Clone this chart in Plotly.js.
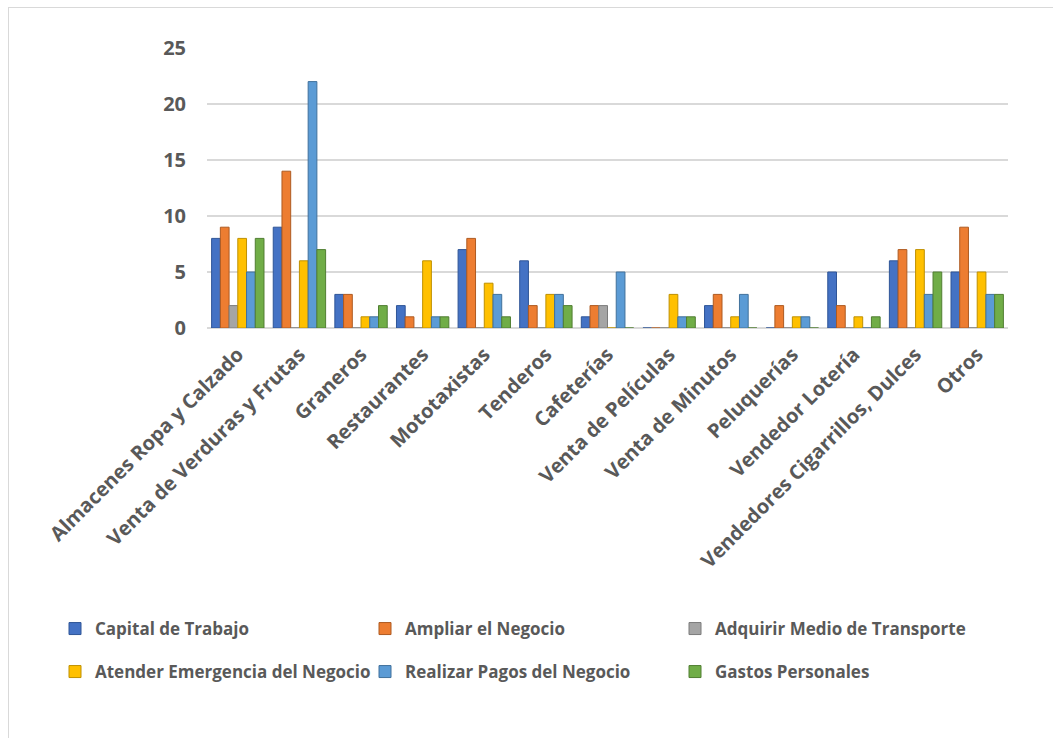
<!DOCTYPE html>
<html>
<head>
<meta charset="utf-8">
<script src="https://cdn.plot.ly/plotly-3.0.1.min.js"></script>
<style>
  html, body { margin: 0; padding: 0; background: #ffffff; }
  #chart { position: absolute; left: 0; top: 0; width: 1053px; height: 738px; }
  #frame { position: absolute; left: 8px; top: 7px; width: 1100px; height: 800px; border: 1px solid #d9d9d9; pointer-events: none; z-index: 5; }
</style>
</head>
<body>
<div id="chart"></div>
<div id="frame"></div>
<script>
const categories = [
  "Almacenes Ropa y Calzado", "Venta de Verduras y Frutas", "Graneros", "Restaurantes",
  "Mototaxistas", "Tenderos", "Cafeterías", "Venta de Películas", "Venta de Minutos",
  "Peluquerías", "Vendedor Lotería", "Vendedores Cigarrillos, Dulces", "Otros"
];
const seriesNames = [
  "Capital de Trabajo", "Ampliar el Negocio", "Adquirir Medio de Transporte",
  "Atender Emergencia del Negocio", "Realizar Pagos del Negocio", "Gastos Personales"
];
const capitalTrabajo     = [8, 9, 3, 2, 7, 6, 1, 0, 2, 0, 5, 6, 5];
const ampliarNegocio     = [9, 14, 3, 1, 8, 2, 2, 0, 3, 2, 2, 7, 9];
const adquirirTransporte = [2, 0, 0, 0, 0, 0, 2, 0, 0, 0, 0, 0, 0];
const atenderEmergencia  = [8, 6, 1, 6, 4, 3, 0, 3, 1, 1, 1, 7, 5];
const realizarPagos      = [5, 22, 1, 1, 3, 3, 5, 1, 3, 1, 0, 3, 3];
const gastosPersonales   = [8, 7, 2, 1, 1, 2, 0, 1, 0, 0, 1, 5, 3];
const yTicks = [0, 5, 10, 15, 20, 25];

const seriesValues = [capitalTrabajo, ampliarNegocio, adquirirTransporte, atenderEmergencia, realizarPagos, gastosPersonales];
const colors = ["#4472c4", "#ed7d31", "#a5a5a5", "#ffc000", "#5b9bd5", "#70ad47"];
const edge   = ["#2f5597", "#ae5a21", "#7b7b7b", "#bf9000", "#41719c", "#507e32"];

const textColor = "#595959";
const fontFam = "'Open Sans', 'Noto Sans', sans-serif";

const legendIds = ["legend", "legend2", "legend3", "legend4", "legend5", "legend6"];
const legendCols = [55, 365, 675];
const legendRows = [629, 672];

const traces = seriesValues.map((vals, i) => ({
  type: "bar",
  name: seriesNames[i],
  x: categories,
  y: vals,
  marker: { color: colors[i], line: { color: edge[i], width: 1 } },
  legend: legendIds[i],
  hoverinfo: "x+y+name"
}));

const layout = {
  width: 1053,
  height: 738,
  margin: { l: 207, r: 45, t: 48, b: 410 },
  paper_bgcolor: "#ffffff",
  plot_bgcolor: "#ffffff",
  barmode: "group",
  bargap: 0.15,
  bargroupgap: 0,
  xaxis: {
    type: "category",
    tickangle: -45,
    tickfont: { family: fontFam, size: 20, color: textColor, weight: "bold" },
    showgrid: false,
    showline: false,
    ticks: "",
    ticklen: 0,
    ticklabelstandoff: 10
  },
  yaxis: {
    range: [0, 25],
    tickvals: yTicks,
    ticktext: yTicks.map(String),
    tickfont: { family: fontFam, size: 20, color: textColor, weight: "bold" },
    showgrid: true,
    gridcolor: "#d9d9d9",
    gridwidth: 2,
    zeroline: true,
    zerolinecolor: "#d9d9d9",
    zerolinewidth: 2,
    showline: false,
    ticks: "",
    ticklabelstandoff: 20
  },
  showlegend: true
};

legendIds.forEach((id, i) => {
  layout[id] = {
    orientation: "h",
    xref: "container",
    yref: "container",
    xanchor: "left",
    yanchor: "middle",
    x: legendCols[i % 3] / 1053,
    y: 1 - legendRows[Math.floor(i / 3)] / 738,
    itemwidth: 30,
    bgcolor: "rgba(0,0,0,0)",
    font: { family: fontFam, size: 17, color: textColor, weight: "bold" }
  };
});

Plotly.newPlot("chart", traces, layout, { displayModeBar: false, staticPlot: true });
</script>
</body>
</html>
